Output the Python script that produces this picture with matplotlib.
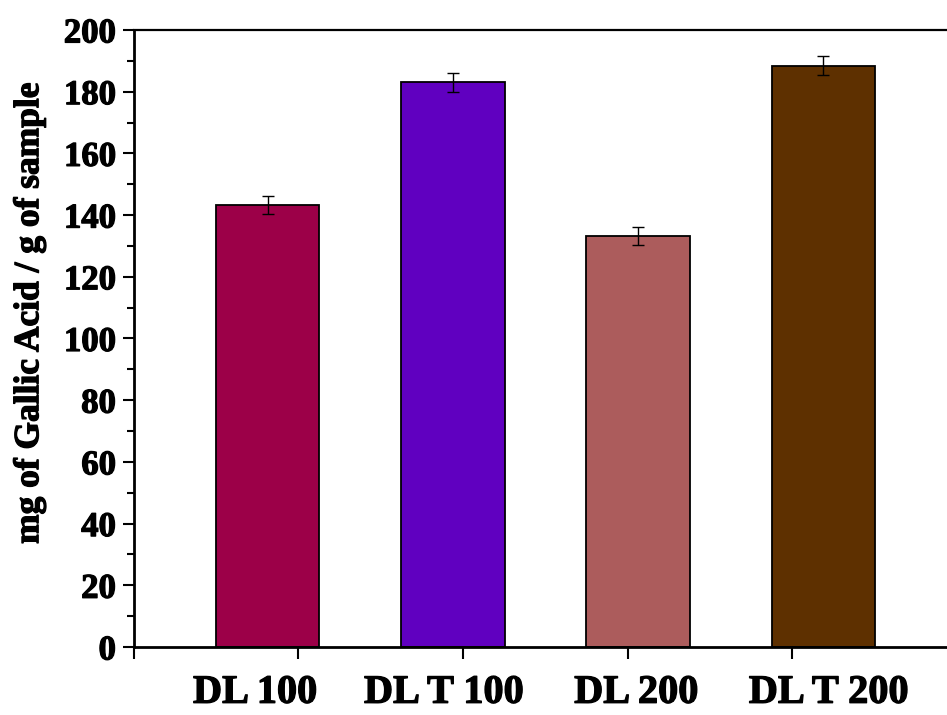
import numpy as np
import matplotlib.pyplot as plt
import matplotlib.patheffects as pe

# Total phenolic content per sample
samples = ["DL 100", "DL T 100", "DL 200", "DL T 200"]
gae = [143.3, 183.0, 133.2, 188.4]
gae_err = [3.0, 3.0, 3.0, 3.0]
colors = ["#9C0048", "#6000C0", "#AC5C5C", "#5E3000"]

plt.rcParams["font.family"] = ["Liberation Serif", "DejaVu Serif"]
plt.rcParams["font.weight"] = "bold"

heavy = [pe.withStroke(linewidth=0.9, foreground="black")]

fig = plt.figure(figsize=(9.47, 7.15), dpi=100)
ax = fig.add_axes([0.1415, 0.0951, 0.8585, 0.863])

x = np.arange(1, len(samples) + 1)
ax.bar(x, gae, width=0.557, color=colors, edgecolor="black", linewidth=1.3, zorder=2)
ax.errorbar(x, gae, yerr=gae_err, fmt="none", ecolor="black", elinewidth=1.0,
            capsize=4.5, capthick=1.0, zorder=3)

ax.set_xlim(0.276, 4.67)
ax.set_ylim(0, 200)

# Origin-style ticks that sit a little off the bar centres
ax.set_xticks([0.276, 1.162, 2.054, 2.946, 3.832])
ax.set_xticklabels([])
ax.set_xticks([0.93, 1.95, 2.99, 4.03], minor=True)
ax.set_xticklabels(samples, minor=True, fontsize=29, fontweight="bold")
ax.tick_params(axis="x", which="major", direction="out", length=8.5, width=1.5)
ax.tick_params(axis="x", which="minor", length=0, pad=20)

ax.set_yticks(np.arange(0, 201, 20))
ax.set_yticks(np.arange(10, 200, 20), minor=True)
ax.tick_params(axis="y", which="major", direction="out", length=8, width=1.5,
               labelsize=25, pad=5)
ax.tick_params(axis="y", which="minor", direction="out", length=5, width=1.5)

for lab in ax.get_yticklabels() + ax.get_xticklabels(minor=True):
    lab.set_fontweight("bold")
    lab.set_path_effects(heavy)

ax.set_ylabel("mg of Gallic Acid / g of sample", fontsize=25.5, fontweight="bold",
              path_effects=heavy)
ax.yaxis.set_label_coords(-0.108, 0.541)

ax.spines["right"].set_visible(False)
ax.spines["left"].set_linewidth(2.0)
ax.spines["bottom"].set_linewidth(2.0)
ax.spines["top"].set_linewidth(1.6)

fig.savefig("out.png", dpi=100)
